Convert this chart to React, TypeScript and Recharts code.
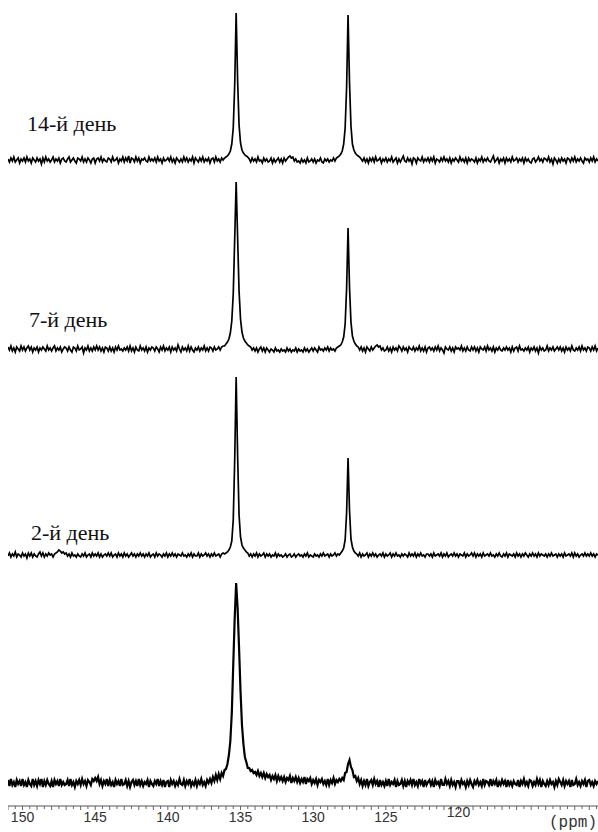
import { Line, LineChart, XAxis, YAxis } from "recharts";

// chemical shift of the first sample and spacing of the sampled spectrum (ppm)
const PPM_FIRST = 151.0;
const PPM_STEP = 0.1;

// intensities above each trace's own baseline, one line per 1 ppm (151.0 -> 110.4)
const day14: number[] = [
  1, -2, 2, -1, 3, -2, 0, 2, -3, 1,
  -1, 2, -2, 3, -1, 1, -3, 2, 0, -2,
  2, -1, 1, -4, 2, -2, 3, -1, 1, -2,
  0, 3, -2, 1, -1, 2, -3, 1, 2, -1,
  -2, 1, 3, -2, 0, 2, -1, -3, 2, 1,
  -1, 3, -2, 1, -2, 2, 0, -3, 1, 2,
  -3, 1, 2, -1, 3, -2, 1, -1, -2, 2,
  1, -2, 3, -1, 0, 2, -3, 1, -1, 3,
  -2, 2, -1, 4, -3, 2, 1, -2, 3, -1,
  2, -3, 1, 0, 2, -1, -2, 3, -1, 1,
  -1, 2, -2, 3, -1, 1, -3, 2, -1, 0,
  2, -1, 3, -2, 1, -3, 2, 0, -2, 1,
  -2, 3, -1, 2, -2, 1, -1, 3, -3, 2,
  0, -2, 2, -1, 3, -2, 1, -1, 2, -3,
  1, 2, -2, 3, -1, 1, -2, 2, 0, 2,
  3, 4, 6, 9, 16, 32, 75, 147, 80, 35,
  17, 10, 7, 5, 4, 3, 1, -2, 2, -1,
  1, -2, 3, -1, 0, -3, 2, -1, 1, -2,
  -1, 2, -3, 1, -2, 0, 2, -2, 1, -3,
  2, -1, 1, 3, 4, 2, 3, -1, 1, -2,
  -1, -3, 1, -2, 0, -3, 2, -2, -1, 1,
  -2, 1, -3, 0, -1, 2, -2, -3, 1, -1,
  1, -2, 0, -1, 2, -1, 2, 3, 4, 6,
  9, 16, 32, 72, 145, 78, 34, 16, 10, 7,
  5, 4, 3, 1, -1, 2, -2, 1, -3, 2,
  -1, 2, -2, 3, -1, 0, 2, -3, 1, -1,
  2, -2, 1, -1, 3, -2, 0, 2, -3, 1,
  -2, 1, 4, -1, -2, 2, -1, 1, -4, 2,
  1, -3, 2, 0, -1, 3, -2, 1, -1, 2,
  -2, 2, -1, 3, -3, 1, 0, -2, 2, -1,
  3, -1, 1, -2, 2, -3, 1, -1, 2, 0,
  -2, 3, -1, 1, -2, 2, -3, 2, -1, 1,
  0, -2, 2, -3, 1, -1, 3, -2, 1, -1,
  2, -1, -2, 1, 4, -2, 0, 2, -3, 1,
  -1, 2, -3, 2, -1, 1, -2, 3, -1, 0,
  2, -2, 1, -1, 2, -3, 2, -1, 1, -2,
  -3, 1, 2, -2, 0, 3, -1, 1, -2, 2,
  1, -1, 3, -2, 1, -4, 2, 0, -3, 1,
  -2, 2, -1, 1, -3, 2, 1, -2, 2, -1,
  3, -2, 1, -1, 2, -1, -3, 2, 0, 1,
  -2, 2, -1, 3, -2, 1, -1,
];

const day7: number[] = [
  2, -1, 3, -2, 1, -3, 2, 0, -2, 3,
  -1, 2, -2, 1, 3, -1, 2, -3, 1, -1,
  2, -3, 1, -1, 2, 0, -2, 3, -1, 1,
  -2, 1, 3, -2, 1, -1, 2, -3, 0, 2,
  1, -2, 2, -1, -3, 2, 1, -2, 3, -1,
  0, 2, -4, 1, -1, 3, -2, 1, -2, 2,
  -1, 3, -1, 2, -2, 1, -3, 2, 1, -2,
  2, -2, 1, -3, 2, -1, 3, -1, 0, -2,
  1, -1, 2, -2, 3, -2, 1, -3, 2, -1,
  -2, 3, -1, 1, -2, 2, -3, 1, -1, 2,
  1, -2, 2, 0, -3, 2, -1, 3, -2, 1,
  -1, 2, -3, 2, -1, 1, -2, 4, 0, -3,
  2, -1, 1, -2, 3, -2, 2, -1, -3, 1,
  -1, 2, -2, 1, -1, 3, -2, 1, -2, 2,
  1, -2, 2, -1, 0, 2, -1, 2, 3, 3,
  5, 7, 10, 16, 28, 55, 110, 167, 112, 58,
  30, 17, 11, 8, 6, 4, 3, 2, -1, 1,
  -2, 1, -3, 0, 2, -2, 1, -3, 1, -1,
  -3, 0, -1, -3, 1, -2, -1, -3, 0, -2,
  -1, -3, 1, -2, 0, -3, -1, -2, 1, -3,
  0, -2, -1, -3, 1, -2, 0, -3, -1, 1,
  -2, 1, -1, -3, 2, -1, 0, -2, 1, -1,
  2, -2, 1, -1, 0, -2, 1, 2, 3, 4,
  7, 12, 25, 60, 121, 62, 27, 13, 8, 5,
  3, 2, -1, 2, -2, 1, -3, 2, 0, -2,
  2, -1, 1, 3, 4, 2, 3, -1, 1, -2,
  -1, 2, -2, 1, -3, 2, -1, 1, -2, 3,
  1, -2, 2, -1, 1, -3, 2, 0, -1, 2,
  -2, 1, -1, 3, -2, 1, -2, 2, -3, 1,
  2, -1, 1, -2, 2, -1, 3, -2, 1, -1,
  -4, 2, 0, -1, 2, -2, 1, -3, 2, 0,
  1, -1, 3, -2, 1, -2, 2, -1, -2, 2,
  -1, 2, -2, 1, -3, 2, 0, -1, 2, -2,
  3, -1, 1, -2, 2, -3, 1, -1, 2, -1,
  -2, 1, -1, 2, -1, 1, -3, 2, -2, 1,
  2, -2, 3, -1, 0, -2, 1, -1, 2, -3,
  1, -1, 2, -2, 1, -4, 2, -1, 1, -2,
  -1, 3, -2, 1, -1, 2, -2, 0, 2, -1,
  2, -2, 1, -3, 2, -1, 1, -2, 3, -1,
  -2, 1, -1, 2, -2, 3, -1, 1, -2, 2,
  1, -2, 2, -1, 3, -2, 1,
];

const day2: number[] = [
  -1, 2, -2, 1, -1, 3, -2, 1, 0, -2,
  2, -1, 1, -3, 2, -1, 2, -2, 1, -1,
  -2, 1, 3, -1, 2, -2, 1, -1, 2, 0,
  1, -2, 1, 2, 3, 5, 4, 2, 3, 1,
  2, -1, 1, -2, 2, -1, 0, -2, 1, -1,
  -2, 1, -1, 2, -2, 0, 1, -2, 2, -1,
  1, -1, 2, -2, 1, -2, 0, 1, -1, 2,
  -1, 2, -2, 0, 1, -2, 2, -1, 1, -2,
  2, -1, 1, -2, 0, 2, -1, 1, -2, 1,
  -1, 2, -1, 1, -2, 1, -1, 2, -2, 0,
  1, -2, 2, -1, 1, 0, -2, 1, -1, 2,
  -2, 1, -1, 2, -1, 1, -2, 1, 0, -1,
  2, -1, 0, -2, 1, -1, 2, -2, 1, -1,
  -1, 2, -2, 1, -1, 0, 2, -1, 1, -2,
  1, -1, 2, -1, 0, 1, -2, 1, 2, 1,
  2, 3, 5, 8, 14, 35, 95, 178, 100, 40,
  18, 10, 7, 5, 3, 2, -1, 1, -2, 1,
  -1, 2, -2, 1, -1, 0, 2, -2, 1, -1,
  1, -2, 0, -1, 2, -2, 1, -1, 0, -2,
  -1, 1, -2, 0, 1, -2, -1, 1, -2, 0,
  1, -1, 0, -2, 1, -1, 2, -2, 0, -1,
  -2, 1, -1, 0, -2, 1, -1, 2, -1, 0,
  1, -2, 1, -1, 0, 2, -1, 1, 0, 2,
  4, 7, 15, 42, 97, 45, 16, 8, 4, 2,
  1, -1, 2, -2, 1, -1, 0, 2, -2, 1,
  -1, 2, -1, 1, -2, 0, 1, -1, 2, -2,
  1, -1, 0, 2, -2, 1, -1, 2, -1, 0,
  -2, 1, -1, 1, 0, -2, 2, -1, 1, -1,
  2, -2, 1, -1, 2, -1, 0, -2, 1, 1,
  -1, 1, -2, 2, -1, 0, 1, -1, 2, -2,
  1, -1, 2, -2, 0, 1, -1, 2, -1, 1,
  -2, 1, 0, -1, 2, -2, 1, -1, 0, 2,
  -1, 2, -2, 1, -1, 1, -2, 2, -1, 0,
  1, -1, 2, -1, 0, -2, 1, -1, 2, -1,
  -2, 1, -1, 2, -2, 1, 0, -1, 1, -2,
  2, -1, 1, -2, 1, -1, 2, 0, -2, 1,
  -1, 2, -1, 1, -2, 2, -1, 1, 0, -1,
  1, -2, 1, -1, 2, -1, 0, 1, -2, 1,
  -1, 1, -2, 2, -1, 0, 1, -1, 2, -2,
  2, -1, 1, -2, 0, 1, -1, 2, -1, 1,
  -1, 2, -1, 1, -2, 1, 0,
];

const day0: number[] = [
  3, -3, 4, -2, 1, -4, 3, -1, 2, -3,
  4, -2, 1, -4, 3, -1, -3, 4, -2, 2,
  -3, 3, -1, 4, -4, 2, -2, 3, -1, -3,
  2, -4, 3, -1, 2, -3, 4, -2, 1, -2,
  -1, 3, -3, 4, -2, 1, -4, 2, -1, 3,
  -2, 4, -1, 2, -3, 3, 1, -2, 4, 2,
  5, 2, 6, -1, 3, -3, 2, -1, 4, -3,
  3, -2, 1, -4, 3, -1, 2, -3, 4, -2,
  -1, 3, -3, 2, -4, 1, 3, -2, 2, -3,
  4, -2, 2, -3, 1, -1, 3, -4, 2, -1,
  -3, 2, -1, 4, -3, 2, -2, 3, -4, 1,
  2, -4, 3, -1, 2, -3, 1, -2, 4, -1,
  -2, 3, -3, 2, -1, 4, -3, 1, -2, 3,
  -3, 2, -1, 4, -2, 1, -3, 3, 0, 4,
  0, 6, 2, 8, 3, 9, 4, 10, 7, 13,
  14, 19, 28, 42, 70, 118, 165, 200, 175, 135,
  92, 58, 39, 26, 21, 15, 15, 12, 13, 10,
  11, 8, 12, 7, 10, 6, 10, 5, 9, 6,
  8, 3, 7, 4, 8, 2, 7, 3, 6, 2,
  6, 1, 5, 3, 7, 0, 5, 2, 6, 1,
  5, 0, 4, 1, 6, -1, 4, 2, 5, -1,
  3, 0, 4, -2, 3, 1, 4, -1, 2, -2,
  4, -2, 3, 0, 5, -1, 3, 1, 4, 2,
  5, 3, 10, 11, 19, 23, 16, 13, 6, 7,
  2, 5, -1, 3, -3, 2, -2, 4, -3, 1,
  3, -2, 4, -1, 2, -4, 3, -2, 1, -3,
  2, -3, 4, -2, 1, -1, 3, -4, 2, -2,
  -1, 3, -3, 2, -4, 2, -1, 3, -2, 4,
  -2, 1, -3, 4, -1, 2, -4, 3, -2, 1,
  3, -2, 2, -4, 3, -1, 1, -3, 4, -2,
  -2, 4, -1, 2, -3, 3, -2, 1, -4, 2,
  2, -3, 3, -1, 1, -4, 2, -2, 3, -1,
  -4, 2, -1, 3, -2, 1, -3, 4, -2, 2,
  1, -2, 4, -3, 2, -1, 3, -4, 1, -2,
  3, -1, 2, -4, 3, -2, 1, -3, 2, -1,
  -2, 3, -4, 2, -1, 4, -2, 1, -3, 3,
  2, -3, 1, -2, 4, -1, 3, -4, 2, -1,
  -3, 2, -2, 3, -1, 1, -4, 2, -2, 4,
  1, -2, 3, -3, 2, -1, 2, -4, 3, -2,
  -1, 4, -2, 1, -3, 2, -1, 3, -4, 2,
  3, -2, 1, -3, 2, -1, 2,
];

const DAY_LABELS = ["14-й день", "7-й день", "2-й день"];
const TICK_LABELS = [150, 145, 140, 135, 130, 125, 120];
const UNIT_LABEL = "(ppm)";

// vertical stacking of the traces
const W = 590;
const H = 832;
const AXIS_H = 26;
const PLOT_H = H - AXIS_H;
const OFFSET = { day14: 646, day7: 457, day2: 251, day0: 23 };
const LABEL_POS = [
  { x: 19, y: 131 },
  { x: 21, y: 327 },
  { x: 23, y: 540 },
];

const minorTicks = Array.from({ length: 82 }, (_, i) => 151 - i * 0.5);

const rows = day14.map((v, i) => ({
  ppm: Math.round((PPM_FIRST - i * PPM_STEP) * 10) / 10,
  day14: v + OFFSET.day14,
  day7: day7[i] + OFFSET.day7,
  day2: day2[i] + OFFSET.day2,
  day0: day0[i] + OFFSET.day0,
}));

function PpmTick(props: any) {
  const { x, payload } = props;
  const v = payload.value as number;
  const whole = Number.isInteger(v);
  const labelled = TICK_LABELS.includes(v);
  return (
    <g>
      <line x1={x} x2={x} y1={PLOT_H} y2={PLOT_H + (whole ? 4 : 3)} stroke="#666" strokeWidth={1} />
      {labelled && (
        <text
          x={x}
          y={v === 120 ? 817 : 822}
          textAnchor="middle"
          fontFamily="'Liberation Sans', Arial, sans-serif"
          fontSize={14}
          fill="#333"
        >
          {v}
        </text>
      )}
    </g>
  );
}

export default function App() {
  return (
    <>
      <style>{"html,body{margin:0;padding:0;overflow:hidden}"}</style>
      <div style={{ position: "relative", width: W, height: H, marginLeft: 8 }}>
        <LineChart width={W} height={H} data={rows} margin={{ top: 0, right: 0, bottom: 0, left: 0 }}>
          <XAxis
            type="number"
            dataKey="ppm"
            domain={[110.4, 151]}
            reversed
            allowDataOverflow
            ticks={minorTicks}
            interval={0}
            tick={<PpmTick />}
            tickLine={false}
            axisLine={{ stroke: "#555" }}
            height={AXIS_H}
          />
          <YAxis hide type="number" domain={[0, PLOT_H]} allowDataOverflow />
          {(["day14", "day7", "day2", "day0"] as const).map((k) => (
            <Line
              key={k}
              dataKey={k}
              type="linear"
              stroke="#000"
              strokeWidth={k === "day0" ? 2.2 : 1.7}
              strokeLinejoin="miter"
              dot={false}
              activeDot={false}
              isAnimationActive={false}
            />
          ))}
        </LineChart>
        <svg
          width={W}
          height={H}
          style={{ position: "absolute", left: 0, top: 0, pointerEvents: "none" }}
        >
          {DAY_LABELS.map((t, i) => (
            <text
              key={t}
              x={LABEL_POS[i].x}
              y={LABEL_POS[i].y}
              fontFamily="'Liberation Serif', 'Times New Roman', serif"
              fontSize={22}
              fill="#111"
            >
              {t}
            </text>
          ))}
          <text
            x={589}
            y={827}
            textAnchor="end"
            fontFamily="'Liberation Mono', monospace"
            fontSize={16}
            fill="#333"
          >
            {UNIT_LABEL}
          </text>
        </svg>
      </div>
    </>
  );
}
